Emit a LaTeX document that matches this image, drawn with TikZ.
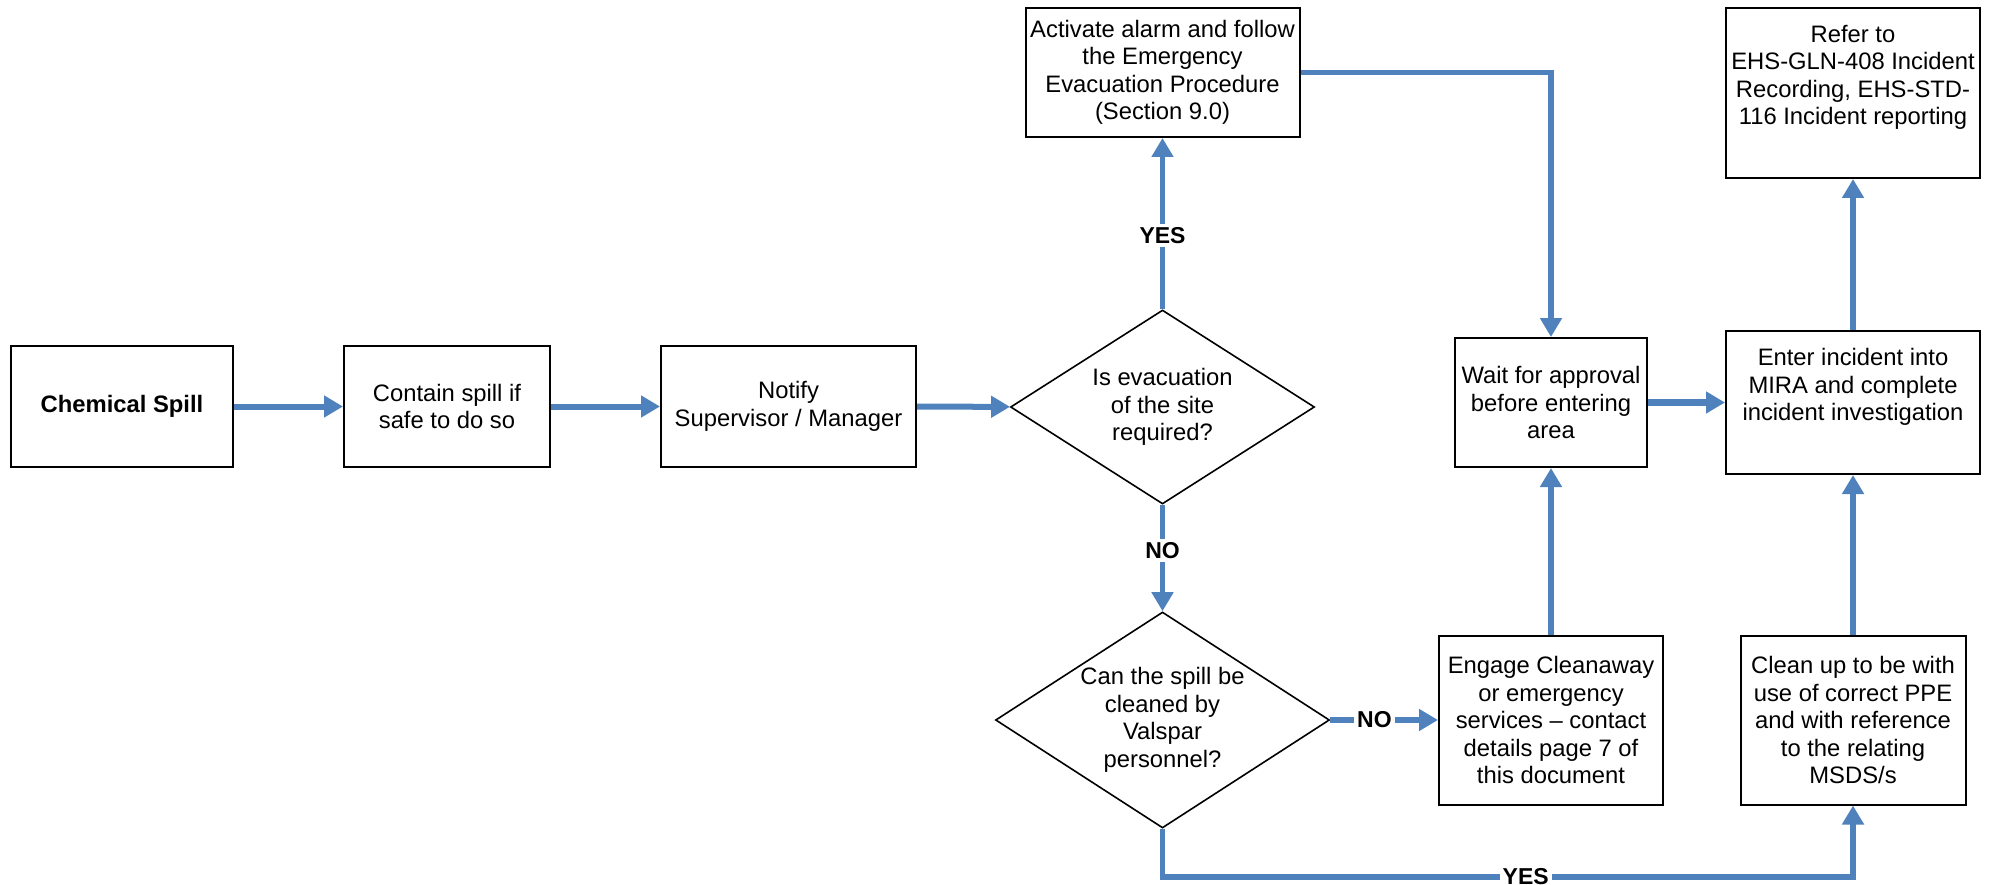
\documentclass[tikz,border=0pt]{standalone}
\usepackage{fontspec}
\setmainfont{Liberation Sans}
\usetikzlibrary{arrows.meta,shapes.geometric}
\definecolor{flowblue}{RGB}{79,129,189}
\begin{document}
\begin{tikzpicture}[x=1pt,y=-1pt,
  txt/.style={font=\fontsize{23.8}{27.5}\selectfont},
  box/.style={txt,draw=black,line width=2pt,rectangle,inner sep=0pt,align=center},
  decision/.style={txt,draw=black,line width=1.6pt,diamond,inner sep=0pt,align=center},
  flow/.style={draw=flowblue,line width=5.5pt,-{Triangle[length=19pt,width=21pt]}},
  tag/.style={fill=white,inner sep=3pt,font=\bfseries\fontsize{23}{26}\selectfont}
]
\useasboundingbox (0,0) rectangle (1993,885);

% process boxes
\node[box,minimum width=222pt,minimum height=121pt] (spill) at (122,406.5) {\bfseries Chemical Spill};
\node[box,minimum width=206pt,minimum height=121pt] (contain) at (447,406.5) {Contain spill if\\safe to do so};
\node[box,minimum width=255pt,minimum height=121pt] (notify) at (788.5,406.5) {Notify\\Supervisor / Manager};
\node[box,minimum width=274pt,minimum height=129pt] (activate) at (1162.5,72.5)
  {Activate alarm and follow\\the Emergency\\Evacuation Procedure\\(Section 9.0)};
\node[box,minimum width=192pt,minimum height=129pt] (wait) at (1551,402.5)
  {Wait for approval\\before entering\\area};
\node[box,minimum width=254pt,minimum height=143pt] (enter) at (1853,402.5)
  {Enter incident into\\MIRA and complete\\incident investigation\\\strut};
\node[box,minimum width=254pt,minimum height=170pt] (refer) at (1853,93)
  {Refer to\\EHS-GLN-408 Incident\\Recording, EHS-STD-\\116 Incident reporting\\\strut};
\node[box,minimum width=224pt,minimum height=169pt] (engage) at (1551,720)
  {Engage Cleanaway\\or emergency\\services -- contact\\details page 7 of\\this document};
\node[box,minimum width=225pt,minimum height=169pt] (clean) at (1853,720)
  {Clean up to be with\\use of correct PPE\\and with reference\\to the relating\\MSDS/s};

% decisions
\node[decision,aspect=1.57,minimum width=304pt,minimum height=194pt] (evac) at (1162.5,407)
  {Is evacuation\\of the site\\required?};
\node[decision,aspect=1.55,minimum width=334pt,minimum height=216pt] (can) at (1162.5,720)
  {Can the spill be\\cleaned by\\Valspar\\personnel?};

\coordinate (yesturn) at (1162.5,877);

% connectors
\draw[flow,line width=6pt] (spill) -- (contain);
\draw[flow,line width=6pt] (contain) -- (notify);
\draw[flow,line width=6pt] (notify) -- (evac);
\draw[flow] (evac) -- node[tag,pos=0.43]{YES} (activate);
\draw[flow] (evac) -- node[tag,pos=0.43]{NO} (can);
\draw[flow] (activate.east) -| (wait.north);
\draw[flow] (can) -- node[tag,pos=0.41]{NO} (engage);
\draw[flow] (can.south) -- (yesturn) -| node[tag,pos=0.263]{YES} (clean.south);
\draw[flow] (engage) -- (wait);
\draw[flow,line width=7pt] (wait) -- (enter);
\draw[flow] (clean) -- (enter);
\draw[flow] (enter) -- (refer);
\end{tikzpicture}
\end{document}
